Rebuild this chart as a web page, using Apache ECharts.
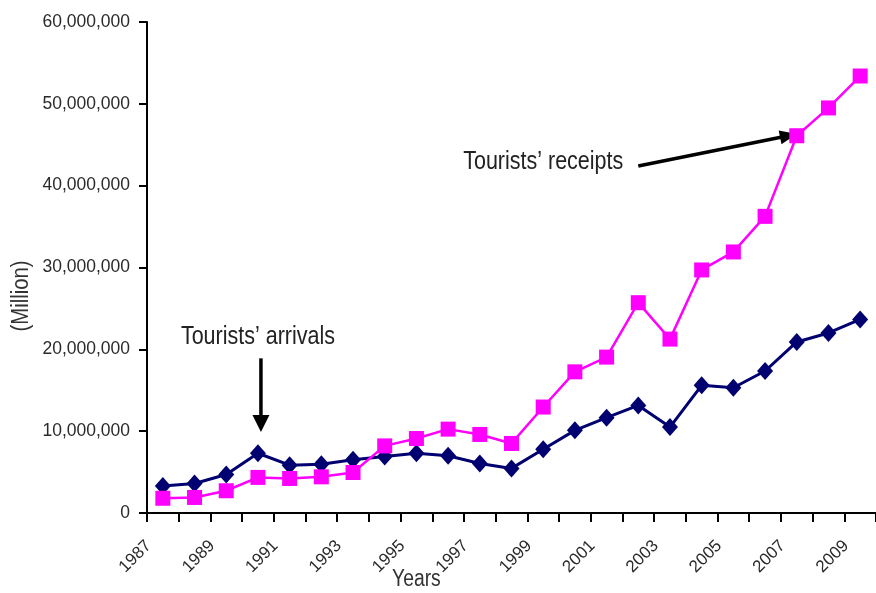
<!DOCTYPE html>
<html>
<head>
<meta charset="utf-8">
<script src="https://cdn.jsdelivr.net/npm/echarts@6/dist/echarts.min.js"></script>
<style>
html,body{margin:0;padding:0;background:#fff;}
#chart{width:876px;height:593px;}
</style>
</head>
<body>
<div id="chart"></div>
<script>
const years = ['1987','1988','1989','1990','1991','1992','1993','1994','1995','1996','1997','1998','1999','2000','2001','2002','2003','2004','2005','2006','2007','2008','2009'];
const arrivals = [3300000,3600000,4700000,7300000,5850000,5950000,6500000,6900000,7300000,7000000,6050000,5450000,7800000,10100000,11650000,13150000,10500000,15600000,15300000,17350000,20900000,22000000,23650000];
const receipts = [1800000,1900000,2720000,4350000,4220000,4420000,4950000,8200000,9100000,10250000,9600000,8500000,12950000,17250000,19050000,25700000,21250000,29700000,31900000,36250000,46100000,49500000,53400000];
const yTicks = [0,10000000,20000000,30000000,40000000,50000000,60000000];

const FONT = "'Liberation Sans',Arial,sans-serif";
const chart = echarts.init(document.getElementById('chart'));

const option = {
  animation: false,
  backgroundColor: '#fff',
  grid: {left: 147, right: -7, top: 22, bottom: 80},
  xAxis: {
    type: 'category',
    data: years,
    boundaryGap: true,
    axisLine: {lineStyle: {color: '#000', width: 2}},
    axisTick: {show: true, interval: 0, length: 9, lineStyle: {color: '#000', width: 2}},
    axisLabel: {interval: 1, rotate: 45, margin: 16, padding: [0, 20, 0, 0], fontSize: 17, color: '#2a2a2a', fontFamily: FONT},
    splitLine: {show: false}
  },
  yAxis: {
    type: 'value',
    min: yTicks[0],
    max: yTicks[yTicks.length - 1],
    interval: yTicks[1] - yTicks[0],
    axisLine: {show: true, lineStyle: {color: '#000', width: 2}},
    axisTick: {show: true, length: 8, lineStyle: {color: '#000', width: 2}},
    axisLabel: {fontSize: 17.5, color: '#2a2a2a', margin: 17, fontFamily: FONT,
      formatter: v => v.toLocaleString('en-US')},
    splitLine: {show: false}
  },
  series: [
    {
      name: "Tourists’ arrivals",
      type: 'line',
      data: arrivals,
      symbol: 'diamond',
      symbolSize: [16, 18],
      itemStyle: {color: '#000070'},
      lineStyle: {color: '#000070', width: 3},
      z: 2
    },
    {
      name: "Tourists’ receipts",
      type: 'line',
      data: receipts,
      symbol: 'rect',
      symbolSize: 15,
      itemStyle: {color: '#ff00ff'},
      lineStyle: {color: '#ff00ff', width: 2.5},
      z: 3
    }
  ]
};
chart.setOption(option);

function px(cat, val) { return chart.convertToPixel({gridIndex: 0}, [cat, val]); }
function arrow(tail, tip, headLen, headW) {
  const dx = tip[0] - tail[0], dy = tip[1] - tail[1];
  const L = Math.sqrt(dx*dx + dy*dy), ux = dx / L, uy = dy / L;
  const bx = tip[0] - ux * headLen, by = tip[1] - uy * headLen;
  const nx = -uy, ny = ux;
  return [
    {type: 'line', shape: {x1: tail[0], y1: tail[1], x2: bx + ux * 2, y2: by + uy * 2}, style: {stroke: '#000', lineWidth: 3.5}},
    {type: 'polygon', shape: {points: [[tip[0], tip[1]], [bx + nx * headW / 2, by + ny * headW / 2], [bx - nx * headW / 2, by - ny * headW / 2]]}, style: {fill: '#000'}}
  ];
}
const aTail = px('1990', 18900000), aTip = px('1990', 9900000);
const rTail = px('2002', 42400000), rTip = px('2007', 46300000);
const yearsPos = px('1995', 0);
const graphics = [].concat(
  arrow([aTail[0] + 3, aTail[1]], [aTip[0] + 3, aTip[1]], 17, 17),
  arrow(rTail, rTip, 17, 14),
  [
    {type: 'text', x: aTail[0] + 0, y: aTail[1] - 21, scaleX: 0.86, style: {text: "Tourists’ arrivals", font: "25px " + FONT, fill: '#222', align: 'center', verticalAlign: 'middle'}},
    {type: 'text', x: rTail[0] - 15, y: rTail[1] - 4, scaleX: 0.86, style: {text: "Tourists’ receipts", font: "25px " + FONT, fill: '#222', align: 'right', verticalAlign: 'middle'}},
    {type: 'text', x: yearsPos[0], y: 580, scaleX: 0.84, style: {text: 'Years', font: "23px " + FONT, fill: '#333', align: 'center', verticalAlign: 'middle'}},
    {type: 'text', x: 22, y: 296, rotation: Math.PI / 2, scaleX: 0.88, style: {text: '(Million)', font: "23px " + FONT, fill: '#333', align: 'center', verticalAlign: 'middle'}}
  ]
);
chart.setOption({graphic: graphics});
</script>
</body>
</html>
